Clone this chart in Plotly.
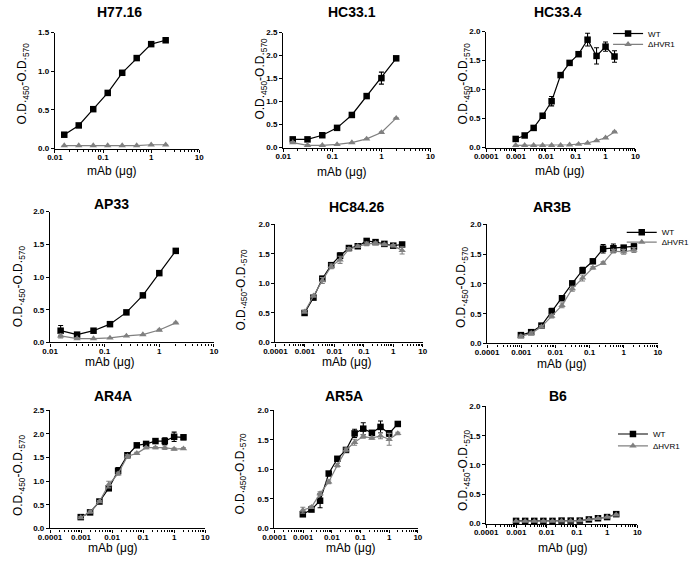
import plotly.graph_objects as go

# ---------------- data ----------------
dose_8 = [0.015625, 0.03125, 0.0625, 0.125, 0.25, 0.5, 1, 2]
dose_12 = [0.0009765625, 0.001953125, 0.00390625, 0.0078125, 0.015625, 0.03125,
           0.0625, 0.125, 0.25, 0.5, 1, 2]

panel_names = ["H77.16", "HC33.1", "HC33.4", "AP33", "HC84.26", "AR3B", "AR4A", "AR5A", "B6"]
series_names = ["WT", "\u0394HVR1"]

h7716_wt = [0.18, 0.30, 0.51, 0.72, 0.98, 1.17, 1.35, 1.40]
h7716_wt_err = [0.02, 0.01, 0.01, 0.01, 0.01, 0.01, 0.02, 0.01]
h7716_dh = [0.04, 0.04, 0.04, 0.04, 0.04, 0.04, 0.05, 0.05]
h7716_dh_err = [0, 0, 0, 0, 0, 0, 0, 0]

hc331_wt = [0.18, 0.18, 0.27, 0.43, 0.71, 1.12, 1.51, 1.94]
hc331_wt_err = [0.03, 0.02, 0.01, 0.01, 0.01, 0.02, 0.13, 0.02]
hc331_dh = [0.11, 0.05, 0.05, 0.07, 0.11, 0.19, 0.33, 0.64]
hc331_dh_err = [0.02, 0.01, 0, 0, 0, 0, 0.01, 0.01]

hc334_wt = [0.15, 0.21, 0.34, 0.55, 0.80, 1.25, 1.46, 1.61, 1.86, 1.58, 1.74, 1.57]
hc334_wt_err = [0.01, 0.01, 0.01, 0.01, 0.08, 0.02, 0.02, 0.02, 0.11, 0.14, 0.08, 0.10]
hc334_dh = [0.04, 0.04, 0.04, 0.04, 0.04, 0.04, 0.05, 0.06, 0.08, 0.12, 0.17, 0.27]
hc334_dh_err = [0, 0, 0, 0, 0, 0, 0, 0, 0, 0, 0, 0.01]

ap33_wt = [0.18, 0.12, 0.18, 0.28, 0.46, 0.72, 1.06, 1.40]
ap33_wt_err = [0.08, 0.02, 0.01, 0.01, 0.01, 0.01, 0.02, 0.03]
ap33_dh = [0.10, 0.06, 0.06, 0.07, 0.10, 0.12, 0.19, 0.30]
ap33_dh_err = [0.03, 0.01, 0, 0, 0, 0, 0.01, 0.01]

hc8426_wt = [0.50, 0.76, 1.08, 1.31, 1.47, 1.60, 1.63, 1.72, 1.70, 1.67, 1.64, 1.66]
hc8426_wt_err = [0.02, 0.02, 0.04, 0.03, 0.05, 0.03, 0.02, 0.02, 0.02, 0.02, 0.02, 0.02]
hc8426_dh = [0.52, 0.79, 1.05, 1.29, 1.40, 1.58, 1.63, 1.67, 1.68, 1.66, 1.64, 1.56]
hc8426_dh_err = [0.02, 0.02, 0.05, 0.04, 0.06, 0.03, 0.02, 0.03, 0.02, 0.02, 0.02, 0.06]

ar3b_wt = [0.14, 0.19, 0.30, 0.54, 0.76, 1.01, 1.23, 1.38, 1.59, 1.60, 1.61, 1.63]
ar3b_wt_err = [0.02, 0.02, 0.02, 0.05, 0.03, 0.03, 0.05, 0.03, 0.07, 0.07, 0.02, 0.04]
ar3b_dh = [0.12, 0.17, 0.28, 0.46, 0.64, 0.92, 1.10, 1.27, 1.35, 1.55, 1.54, 1.57]
ar3b_dh_err = [0.02, 0.02, 0.02, 0.03, 0.04, 0.04, 0.05, 0.02, 0.02, 0.03, 0.04, 0.04]

ar4a_wt = [0.24, 0.34, 0.57, 0.85, 1.22, 1.55, 1.76, 1.79, 1.85, 1.85, 1.94, 1.93]
ar4a_wt_err = [0.02, 0.02, 0.02, 0.03, 0.07, 0.04, 0.02, 0.02, 0.03, 0.07, 0.10, 0.05]
ar4a_dh = [0.23, 0.35, 0.57, 0.93, 1.16, 1.53, 1.59, 1.71, 1.71, 1.71, 1.68, 1.69]
ar4a_dh_err = [0.02, 0.02, 0.02, 0.07, 0.03, 0.03, 0.02, 0.02, 0.02, 0.04, 0.02, 0.02]

ar5a_wt = [0.24, 0.32, 0.47, 0.93, 1.18, 1.33, 1.61, 1.69, 1.62, 1.72, 1.61, 1.77]
ar5a_wt_err = [0.03, 0.03, 0.12, 0.03, 0.03, 0.03, 0.07, 0.10, 0.02, 0.10, 0.05, 0.02]
ar5a_dh = [0.31, 0.36, 0.59, 0.79, 1.07, 1.33, 1.46, 1.56, 1.53, 1.57, 1.51, 1.61]
ar5a_dh_err = [0.05, 0.02, 0.03, 0.03, 0.03, 0.03, 0.05, 0.03, 0.02, 0.05, 0.10, 0.02]

b6_wt = [0.045, 0.045, 0.045, 0.045, 0.045, 0.05, 0.05, 0.05, 0.07, 0.09, 0.11, 0.16]
b6_wt_err = [0, 0, 0, 0, 0, 0, 0, 0, 0.01, 0.01, 0.01, 0.02]
b6_dh = [0.04, 0.04, 0.04, 0.04, 0.04, 0.045, 0.045, 0.05, 0.07, 0.09, 0.11, 0.15]
b6_dh_err = [0, 0, 0, 0, 0, 0, 0, 0, 0, 0, 0, 0.01]

y_max = [1.5, 2.5, 2.0, 2.0, 2.0, 2.0, 2.5, 2.0, 2.0]
x_min_exp = [-2, -2, -4, -2, -4, -4, -4, -4, -4]
x_max_exp = [1, 1, 1, 1, 1, 1, 1, 1, 1]
x_tick_labels = {-4: "0.0001", -3: "0.001", -2: "0.01", -1: "0.1", 0: "1", 1: "10"}

panels = [
    (dose_8, h7716_wt, h7716_wt_err, h7716_dh, h7716_dh_err),
    (dose_8, hc331_wt, hc331_wt_err, hc331_dh, hc331_dh_err),
    (dose_12, hc334_wt, hc334_wt_err, hc334_dh, hc334_dh_err),
    (dose_8, ap33_wt, ap33_wt_err, ap33_dh, ap33_dh_err),
    (dose_12, hc8426_wt, hc8426_wt_err, hc8426_dh, hc8426_dh_err),
    (dose_12, ar3b_wt, ar3b_wt_err, ar3b_dh, ar3b_dh_err),
    (dose_12, ar4a_wt, ar4a_wt_err, ar4a_dh, ar4a_dh_err),
    (dose_12, ar5a_wt, ar5a_wt_err, ar5a_dh, ar5a_dh_err),
    (dose_12, b6_wt, b6_wt_err, b6_dh, b6_dh_err),
]

# ---------------- layout geometry (pixels) ----------------
W, H = 696, 561
# (x_left, x_right, y_top, y_bottom) of each plot area
boxes = [
    (44, 192, 29, 147), (278, 429, 29, 146), (486, 639, 28, 146),
    (39, 207, 211, 344), (270, 421, 224, 344), (487, 662, 224, 345),
    (39, 198, 413, 533), (269, 416, 413, 533), (486, 641, 409, 528),
]
title_pos = [(110, 8), (349, 8), (560, 8), (102, 203), (353, 206), (554, 206),
             (104, 398), (340, 398), (560, 398)]
xtitle_pos = [(102, 170), (338, 171), (562, 170), (100, 364), (343, 364), (564, 366),
              (104, 553), (347, 553), (565, 553)]
ytitle_pos = [(11, 81), (255, 76), (463, 81), (8, 287), (236, 290), (462, 288),
              (8, 479), (235, 477), (464, 474)]
# legends: panel index -> (text_x, y_wt, y_dh)
legend_pos = {2: (653, 30, 41), 5: (667, 232, 242), 8: (658, 437, 449)}

FONT = "Liberation Sans, Arial, sans-serif"
BLACK = "#000000"
GRAY = "#808080"

def px(x):
    return x / W

def py(y):
    return 1 - y / H

fig = go.Figure()
layout = dict(
    width=W, height=H, margin=dict(l=0, r=0, t=0, b=0),
    paper_bgcolor="white", plot_bgcolor="white",
    font=dict(family=FONT, color=BLACK),
    annotations=[],
)

legend_counter = 1
for i, (dose, wt, wt_err, dh, dh_err) in enumerate(panels):
    n = i + 1
    xs = "" if n == 1 else str(n)
    x0, x1, yt, yb = boxes[i]
    lo, hi = x_min_exp[i], x_max_exp[i]
    major = [10.0 ** e for e in range(lo, hi + 1)]
    minor_vals = [k * 10.0 ** e for e in range(lo, hi) for k in range(2, 10)]
    layout["xaxis" + xs] = dict(
        type="log", range=[lo, hi], domain=[px(x0), px(x1)], anchor="y" + xs,
        tickmode="array", tickvals=major,
        ticktext=[x_tick_labels[e] for e in range(lo, hi + 1)],
        ticks="outside", ticklen=3, tickwidth=1.2, tickcolor=BLACK,
        ticklabelstandoff=-2,
        showline=True, linecolor=BLACK, linewidth=1.3,
        showgrid=False, zeroline=False,
        tickfont=dict(family=FONT, size=8, color=BLACK, weight="bold"),
        minor=dict(tickmode="array", tickvals=minor_vals, ticks="outside",
                   ticklen=2, tickwidth=1, tickcolor=BLACK, showgrid=False),
    )
    ymax = y_max[i]
    ytv = [round(v * 0.5, 1) for v in range(int(round(ymax / 0.5)) + 1)]
    layout["yaxis" + xs] = dict(
        range=[0, ymax], domain=[py(yb), py(yt)], anchor="x" + xs,
        tickmode="array", tickvals=ytv, ticktext=[f"{v:.1f}" for v in ytv],
        ticks="outside", ticklen=3, tickwidth=1.2, tickcolor=BLACK,
        showline=True, linecolor=BLACK, linewidth=1.3,
        showgrid=False, zeroline=False,
        tickfont=dict(family=FONT, size=8, color=BLACK, weight="bold"),
    )

    has_legend = i in legend_pos
    specs = [
        (wt, wt_err, series_names[0], BLACK, "square", 6.5),
        (dh, dh_err, series_names[1], GRAY, "triangle-up", 6.5),
    ]
    for j, (vals, errs, name, col, sym, msz) in enumerate(specs):
        tr = dict(
            x=dose, y=vals, name=name, mode="lines+markers",
            xaxis="x" + xs, yaxis="y" + xs,
            line=dict(color=col, width=1.2),
            marker=dict(symbol=sym, size=msz, color=col),
            error_y=dict(type="data", array=errs, visible=True, color=col,
                         thickness=1.1, width=2.5),
            cliponaxis=False, showlegend=has_legend,
        )
        if has_legend:
            tx, ywt, ydh = legend_pos[i]
            lname = "legend" if legend_counter == 1 else f"legend{legend_counter}"
            tr["legend"] = lname
            layout[lname] = dict(
                x=px(tx - 42), y=py(ywt if j == 0 else ydh),
                xanchor="left", yanchor="middle",
                bgcolor="rgba(0,0,0,0)", borderwidth=0,
                font=dict(family=FONT, size=8, color=BLACK),
                itemwidth=30, tracegroupgap=0,
            )
            legend_counter += 1
        fig.add_trace(go.Scatter(**tr))

    # panel title
    tx, ty = title_pos[i]
    layout["annotations"].append(dict(
        text="<b>" + panel_names[i] + "</b>", x=px(tx), y=py(ty),
        xref="paper", yref="paper", xanchor="center", yanchor="middle",
        showarrow=False, font=dict(family=FONT, size=14, color=BLACK)))
    # x title
    tx, ty = xtitle_pos[i]
    layout["annotations"].append(dict(
        text="mAb (\u03bcg)", x=px(tx), y=py(ty),
        xref="paper", yref="paper", xanchor="center", yanchor="middle",
        showarrow=False, font=dict(family=FONT, size=12, color=BLACK)))
    # y title
    tx, ty = ytitle_pos[i]
    layout["annotations"].append(dict(
        text="O.D.<sub>450</sub>-O.D.<sub>570</sub>", x=px(tx), y=py(ty),
        xref="paper", yref="paper", xanchor="center", yanchor="middle",
        textangle=-90, showarrow=False,
        font=dict(family=FONT, size=12, color=BLACK)))

fig.update_layout(**layout)
fig.write_html(
    "out.html",
    config={"displayModeBar": False},
    post_script="document.body.style.margin='0';document.body.style.padding='0';"
                "document.body.style.overflow='hidden';",
)
